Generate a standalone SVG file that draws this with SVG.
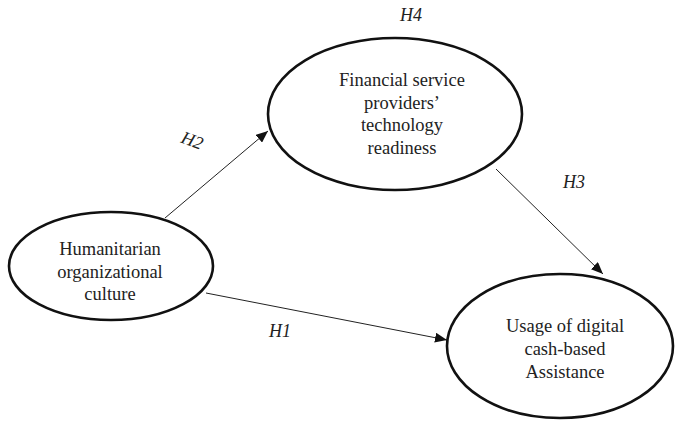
<svg xmlns="http://www.w3.org/2000/svg" width="675" height="421" viewBox="0 0 675 421">
<style>
.node{fill:#fff;stroke:#111;stroke-width:2.6}
.t{font-family:'Liberation Serif','Times New Roman','DejaVu Serif',serif;font-size:18.5px;fill:#222;text-anchor:middle}
.h{font-family:'Liberation Serif','Times New Roman','DejaVu Serif',serif;font-size:18px;font-style:italic;fill:#222}
.c{stroke:#222;stroke-width:1;fill:none;marker-end:url(#ah)}
</style>
<defs>
<marker id="ah" viewBox="0 0 12 10" refX="12" refY="5" markerWidth="12" markerHeight="10" markerUnits="userSpaceOnUse" orient="auto">
<path d="M0,0 L12,5 L0,10 Z" fill="#111"/>
</marker>
</defs>
<g id="connectors">
<line class="c" x1="165" y1="218" x2="268" y2="131"/>
<line class="c" x1="496" y1="169" x2="603" y2="274"/>
<line class="c" x1="206" y1="293" x2="447" y2="340"/>
</g>
<g id="labels">
<text class="h" x="400" y="21">H4</text>
<text class="h" x="181" y="146" transform="rotate(20 191 141)">H2</text>
<text class="h" x="563" y="188">H3</text>
<text class="h" x="269" y="337">H1</text>
</g>
<g id="n_fsp">
<ellipse class="node" cx="395" cy="114" rx="127" ry="76"/>
<text class="t" x="402" y="86">Financial service</text>
<text class="t" x="402" y="108.5">providers’</text>
<text class="t" x="402" y="131">technology</text>
<text class="t" x="402" y="153.5">readiness</text>
</g>
<g id="n_hoc">
<ellipse class="node" cx="111" cy="266" rx="102" ry="54"/>
<text class="t" x="110" y="255">Humanitarian</text>
<text class="t" x="110" y="277.5">organizational</text>
<text class="t" x="110" y="300">culture</text>
</g>
<g id="n_usage">
<ellipse class="node" cx="560" cy="346" rx="113" ry="72"/>
<text class="t" x="565" y="332">Usage of digital</text>
<text class="t" x="565" y="355">cash-based</text>
<text class="t" x="565" y="378">Assistance</text>
</g>
</svg>
